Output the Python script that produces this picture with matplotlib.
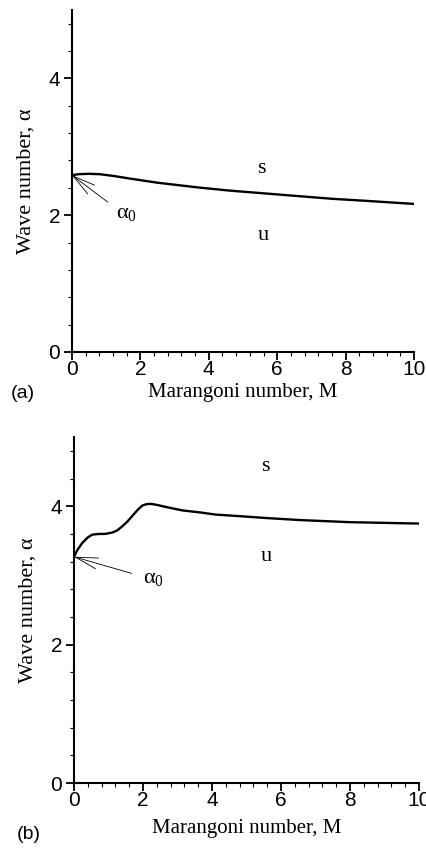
import numpy as np
import matplotlib
matplotlib.use("Agg")
import matplotlib.pyplot as plt
from matplotlib.ticker import MultipleLocator

# neutral curve alpha(M), panel (a)
m_a = [0.0, 0.2, 0.5, 0.8, 1.2, 1.7, 2.5, 3.7, 4.6, 5.6, 6.6, 7.6, 8.6, 10.0]
alpha_a = [2.585, 2.60, 2.605, 2.60, 2.575, 2.535, 2.475, 2.405, 2.36, 2.32, 2.28, 2.24, 2.21, 2.165]

# neutral curve alpha(M), panel (b)
m_b = [0.0, 0.1, 0.24, 0.4, 0.53, 0.72, 0.9, 1.11, 1.25, 1.4, 1.55, 1.69, 1.85, 1.98,
       2.1, 2.22, 2.4, 2.66, 3.14, 3.67, 4.1, 5.0, 5.56, 6.57, 8.0, 10.0]
alpha_b = [3.27, 3.37, 3.47, 3.55, 3.59, 3.60, 3.60, 3.62, 3.65, 3.71, 3.78, 3.86, 3.95, 4.01,
           4.03, 4.035, 4.02, 3.99, 3.94, 3.91, 3.88, 3.85, 3.83, 3.80, 3.77, 3.75]

alpha0 = [2.585, 3.27]
arrow_tail = [(1.05, 2.19), (1.67, 3.03)]
alpha0_lab = [(1.6, 2.03), (2.3, 2.95)]
s_pos = [(5.55, 2.68), (5.54, 4.57)]
u_pos = [(5.6, 1.71), (5.58, 3.28)]
panel_tags = ["(a)", "(b)"]

serif = "Liberation Serif"
sans = "Liberation Sans"
plt.rcParams["mathtext.fontset"] = "custom"
plt.rcParams["mathtext.rm"] = serif
plt.rcParams["mathtext.it"] = serif + ":italic"

fig = plt.figure(figsize=(4.27, 8.49), dpi=100)
rects = [[0.1686, 0.5854, 0.801, 0.4028], [0.1733, 0.0777, 0.808, 0.4075]]
curves = [(m_a, alpha_a), (m_b, alpha_b)]
xlab_pad = [3, 7]
tag_xy = [(-0.143, -0.12), (-0.13, -0.15)]

for i, rect in enumerate(rects):
    ax = fig.add_axes(rect)
    xs, ys = curves[i]
    ax.plot(xs, ys, color="black", lw=1.7, solid_capstyle="round")
    ax.set_xlim(0, 10)
    ax.set_ylim(0, 5)
    ax.spines["top"].set_visible(False)
    ax.spines["right"].set_visible(False)
    for sp in ("left", "bottom"):
        ax.spines[sp].set_linewidth(1.5)
    ax.xaxis.set_major_locator(MultipleLocator(2))
    ax.xaxis.set_minor_locator(MultipleLocator(0.4))
    ax.yaxis.set_major_locator(MultipleLocator(2))
    ax.yaxis.set_minor_locator(MultipleLocator(0.4))
    ax.tick_params(which="major", direction="out", length=5.5, width=1.3, labelsize=15, pad=3)
    ax.tick_params(which="minor", direction="out", length=3.2, width=0.8)
    ax.tick_params(axis="x", which="major", pad=0)
    for lab in ax.get_xticklabels() + ax.get_yticklabels():
        lab.set_fontfamily(sans)
    ax.set_xlabel("Marangoni number, M", fontfamily=serif, fontsize=15, labelpad=xlab_pad[i])
    ax.set_ylabel("Wave number, \u03b1", fontfamily=serif, fontsize=16, labelpad=9)

    ax.annotate("", xy=(0.0, alpha0[i]), xytext=arrow_tail[i],
                arrowprops=dict(arrowstyle="->,head_length=1.6,head_width=0.4",
                                lw=0.6, color="black", shrinkA=0, shrinkB=0))
    ax.text(*alpha0_lab[i], "\u03b1$_{\\mathrm{0}}$", fontfamily=serif, fontsize=16,
            ha="center", va="center")
    ax.text(*s_pos[i], "s", fontfamily=serif, fontsize=16, ha="center", va="center")
    ax.text(*u_pos[i], "u", fontfamily=serif, fontsize=16, ha="center", va="center")
    ax.text(*tag_xy[i], panel_tags[i], transform=ax.transAxes, fontfamily=sans,
            fontsize=14, ha="center", va="center")

fig.savefig("out.png", dpi=100)
